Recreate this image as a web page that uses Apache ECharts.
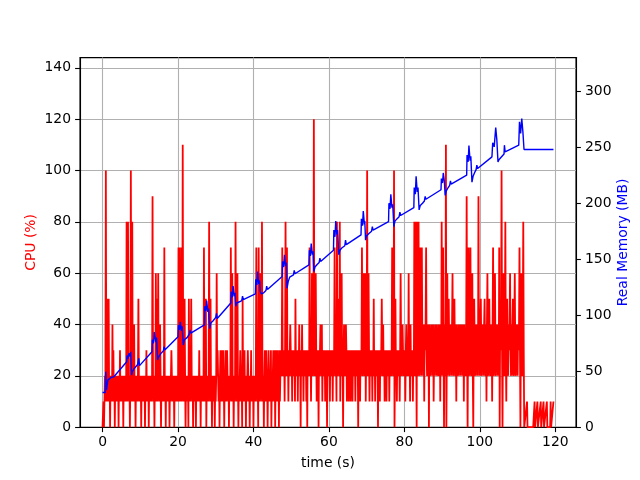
<!DOCTYPE html>
<html>
<head>
<meta charset="utf-8">
<script src="https://cdn.jsdelivr.net/npm/echarts@6.0.0/dist/echarts.min.js"></script>
<style>
html,body{margin:0;padding:0;background:#fff;}
#chart{width:640px;height:480px;}
</style>
</head>
<body>
<div id="chart"></div>
<script>
// CPU (%) samples, one every cpuStep seconds starting at t = 0 (rows of 5 s)
const cpuStep = 0.125;
const cpuValues = [
  0,0,10,0,10,20,10,100,10,20, 10,50,10,50,10,20,0,20,10,20, 10,40,10,30,10,20,0,20,10,20, 10,20,10,20,0,20,10,30,10,20,
  10,20,10,20,0,20,10,20,10,20, 10,80,10,20,80,20,10,20,0,20, 100,20,10,80,10,20,10,40,10,20, 0,20,10,20,10,20,50,20,10,20,
  10,20,0,20,10,20,10,20,10,20, 0,20,10,30,10,20,10,20,0,20, 10,20,10,20,10,20,90,20,10,20, 0,20,10,60,10,50,10,20,60,20,
  10,20,40,20,0,20,10,20,10,20, 10,70,10,20,0,20,10,20,10,20, 10,20,0,20,10,20,30,20,10,20, 10,20,0,20,10,20,10,20,10,20,
  10,70,10,70,10,20,10,70,10,20, 110,20,10,20,50,20,0,20,10,20, 10,20,0,50,10,20,10,20,50,20, 10,20,0,20,10,20,10,20,0,20,
  10,20,10,20,10,30,10,20,0,20, 10,20,10,20,10,70,10,20,10,50, 0,20,10,20,10,20,80,20,10,50, 10,20,0,20,10,20,10,20,0,20,
  10,20,60,20,30,20,10,20,0,20, 30,20,10,30,10,20,30,20,0,20, 10,30,10,20,30,20,10,20,0,20, 10,20,70,20,10,60,10,20,0,20,
  10,20,80,20,10,20,60,20,0,20, 10,20,30,20,10,20,0,50,10,20, 10,30,10,20,0,20,10,20,30,20, 10,20,0,20,10,30,10,20,10,20,
  0,20,10,20,10,20,70,20,10,20, 0,70,10,20,60,20,10,20,80,20, 10,20,0,20,30,20,10,30,10,20, 0,20,30,20,10,20,10,30,0,20,
  10,20,30,20,10,30,0,20,30,20, 10,30,10,20,0,30,10,20,30,20, 30,70,20,30,20,30,10,30,80,30, 20,70,20,30,10,30,20,30,40,30,
  20,30,10,30,20,30,20,30,10,50, 20,30,20,30,10,30,20,40,20,30, 0,30,20,40,20,30,10,30,20,30, 20,30,10,30,0,30,20,30,20,70,
  20,30,10,30,60,30,20,30,120,30, 20,30,60,30,10,30,20,30,0,30, 20,30,40,30,20,40,10,30,20,30, 20,30,10,30,20,30,0,30,20,30,
  20,30,10,30,20,30,20,30,10,30, 20,30,70,30,20,30,10,80,20,30, 50,30,20,80,10,30,20,60,20,30, 0,30,40,30,20,30,40,30,10,30,
  20,30,10,30,20,30,10,30,20,30, 10,30,20,30,20,30,10,30,20,30, 20,30,0,30,20,30,10,30,20,30, 70,30,20,30,60,30,20,60,10,30,
  20,100,20,30,60,30,10,30,20,30, 20,30,10,30,20,50,20,30,10,30, 20,30,20,30,0,30,20,30,10,30, 20,30,50,30,20,40,20,30,10,30,
  20,30,10,30,20,30,20,30,10,30, 20,30,20,30,70,30,20,30,100,0, 20,50,20,30,10,30,20,30,20,30, 10,30,60,30,20,30,40,30,20,30,
  20,30,10,30,40,30,20,30,20,60, 20,30,10,40,20,30,20,30,10,30, 20,80,20,30,80,30,0,80,20,30, 80,30,20,40,70,40,20,70,30,40,
  20,40,10,40,30,40,70,30,20,40, 30,40,0,40,20,30,20,40,30,40, 20,40,10,30,20,40,30,40,20,40, 20,30,20,40,30,40,10,40,20,80,
  20,40,70,30,0,40,20,30,110,0, 30,60,20,40,50,30,20,40,30,40, 20,40,60,30,20,40,50,30,20,40, 10,40,20,30,20,40,30,40,20,40,
  20,40,30,40,20,40,10,40,20,30, 20,40,90,30,0,40,70,30,20,40, 70,30,20,40,60,20,0,40,50,30, 20,40,30,40,20,40,20,90,30,40,
  20,40,50,30,20,40,30,40,20,40, 50,30,20,40,10,40,60,30,20,40, 50,30,20,40,30,40,10,40,70,30, 20,40,60,30,20,40,30,40,20,40,
  20,70,0,40,30,40,100,30,0,40, 60,30,20,40,80,30,10,40,50,30, 20,40,30,40,60,30,20,40,20,40, 50,30,20,40,60,30,20,40,30,40,
  20,40,30,40,70,30,0,40,60,30, 20,40,80,30,0,0,0,0,0,0, 10,0,0,0,0,0,0,0,0,0, 0,0,0,0,0,0,10,0,0,0,
  0,0,10,0,0,0,0,0,0,10, 0,0,0,0,0,10,0,0,0,0, 0,0,10,0,0,0,0,0,0,0, 10,0,0,0,0,0,10
];

// Real memory (MB): sample times (s) and values
const memTimes = [
  0,0.7,0.85,1.05,1.4,1.8,2.3,2.6,3.0,
  6.4,6.5,6.7,7.0,7.3,7.45,7.7,7.9,8.3,9.3,9.6,9.8,
  13.1,13.2,13.5,13.7,14.1,14.3,14.6,14.9,15.5,16.1,16.3,16.5,
  20.0,20.1,20.4,20.6,20.9,21.1,21.4,21.7,22.4,23.0,23.2,23.4,
  27.0,27.1,27.4,27.6,27.9,28.1,28.4,28.7,29.3,30.0,30.2,30.4,
  34.0,34.1,34.4,34.6,34.9,35.1,35.3,35.6,36.3,36.9,37.1,37.3,
  40.5,40.6,40.9,41.1,41.4,41.6,41.8,42.1,42.7,43.3,43.5,43.7,
  47.6,47.7,48.0,48.2,48.5,48.7,48.9,49.2,49.6,50.6,50.8,51.0,
  54.7,54.8,55.1,55.3,55.6,55.8,56.0,56.3,56.8,57.4,57.6,57.8,
  61.2,61.3,61.6,61.8,62.1,62.3,62.6,62.9,63.4,64.2,64.4,64.6,
  68.5,68.6,68.9,69.1,69.4,69.5,69.7,70.0,70.6,71.3,71.5,71.7,
  75.8,75.9,76.2,76.4,76.7,76.9,77.2,77.5,78.0,78.6,78.8,79.0,
  82.5,82.6,82.9,83.1,83.4,83.6,83.9,84.2,84.8,85.3,85.5,85.7,
  89.7,89.8,90.1,90.3,90.6,90.8,91.1,91.6,92.0,92.2,92.4,
  96.5,96.6,96.9,97.1,97.4,97.6,97.9,98.2,98.7,99.0,99.2,99.4,
  103.2,103.4,103.8,104.2,104.5,104.8,105.1,105.6,106.4,106.5,106.7,
  110.3,110.5,110.8,111.1,111.4,111.7,119.5
];
const memValues = [
  31,31,49.6,33,42,41,44.5,43,45,
  58.5,64,61,66,63,67.4,46.6,49.5,52,56,61.5,55,
  67.4,78,75,85,76,80,60,63,66,68,72,69,
  80.8,91,87,94,86,90,73.4,78,80,83,86.8,84,
  91.3,108,104,113,103,106,88,93,95,98,101.7,97,
  110.9,121,116,126,117,120,108,111,112,113,117,114,
  119,132,127,139,128,131,121,119,120,122,126,123,
  134.5,148,143,154,144,147,124,130,134,136,140,137,
  145,158,153,164,154,157,139,143,145,147,151,148,
  158,176,170,184,172,176,154,158,160,162,167,163,
  171.7,186,180,193,181,184,167,171,173,175,179,176,
  183.6,200,195,208,196,199,179,184,186,188,192,189,
  196,214,208,224,210,214,194,198,200,202,206,203.5,
  212,222,218,227,219,207,211,214,216,220,217,
  225,243,237,251.5,238,242,218.75,224,228,230,234,231,
  241.4,253.9,250.3,267.6,256.3,236.9,239,238.4,244,251.8,245.8,
  251.8,272.6,262.2,275.6,263.7,248,248
];

// Tick labels
const timeTicks = [0,20,40,60,80,100,120];
const cpuTicks = [0,20,40,60,80,100,120,140];
const memTicks = [0,50,100,150,200,250,300];

const cpuData = cpuValues.map((v, i) => [i * cpuStep, v]);
const memData = memTimes.map((t, i) => [t, memValues[i]]);

const FONT = 'DejaVu Sans';
const FS = 13.9;
const axisLineStyle = { color: '#000', width: 1.1 };

const chart = echarts.init(document.getElementById('chart'), null, { renderer: 'canvas' });
chart.setOption({
  animation: false,
  backgroundColor: '#fff',
  grid: {
    left: 80, right: 64, top: 57.6, bottom: 52.8,
    show: true, borderColor: '#000', borderWidth: 1.1,
    containLabel: false, outerBoundsMode: 'none'
  },
  xAxis: {
    type: 'value', min: -5.975, max: 125.475,
    axisLine: { show: true, onZero: false, lineStyle: axisLineStyle },
    axisTick: { show: true, length: 4.9, lineStyle: axisLineStyle, customValues: timeTicks },
    axisLabel: { customValues: timeTicks, color: '#000', fontSize: FS, fontFamily: FONT, margin: 8 },
    splitLine: { show: true, lineStyle: { color: '#b0b0b0', width: 1.1 } },
    name: 'time (s)', nameLocation: 'middle', nameGap: 29, nameMoveOverlap: false,
    nameTextStyle: { color: '#000', fontSize: FS, fontFamily: FONT }
  },
  yAxis: [
    {
      type: 'value', min: 0, max: 144, position: 'left',
      axisLine: { show: true, onZero: false, lineStyle: axisLineStyle },
      axisTick: { show: true, length: 4.9, lineStyle: axisLineStyle, customValues: cpuTicks },
      axisLabel: { customValues: cpuTicks, color: '#000', fontSize: FS, fontFamily: FONT, margin: 9 },
      splitLine: { show: true, lineStyle: { color: '#b0b0b0', width: 1.1 } },
      name: 'CPU (%)', nameLocation: 'middle', nameRotate: 90, nameGap: 42, nameMoveOverlap: false,
      nameTextStyle: { color: '#ff0000', fontSize: FS, fontFamily: FONT }
    },
    {
      type: 'value', min: 0, max: 330, position: 'right',
      axisLine: { show: true, onZero: false, lineStyle: axisLineStyle },
      axisTick: { show: true, length: 4.9, lineStyle: axisLineStyle, customValues: memTicks },
      axisLabel: { customValues: memTicks, color: '#000', fontSize: FS, fontFamily: FONT, margin: 9 },
      splitLine: { show: false },
      name: 'Real Memory (MB)', nameLocation: 'middle', nameRotate: 90, nameGap: 40, nameMoveOverlap: false,
      nameTextStyle: { color: '#0000ff', fontSize: FS, fontFamily: FONT }
    }
  ],
  series: [
    {
      type: 'line', name: 'CPU', xAxisIndex: 0, yAxisIndex: 0,
      data: cpuData, symbol: 'none', showSymbol: false, silent: true,
      lineStyle: { color: '#ff0000', width: 1.8 }, itemStyle: { color: '#ff0000' },
      z: 2
    },
    {
      type: 'line', name: 'Memory', xAxisIndex: 0, yAxisIndex: 1,
      data: memData, symbol: 'none', showSymbol: false, silent: true,
      lineStyle: { color: '#0000ff', width: 1.4 }, itemStyle: { color: '#0000ff' },
      z: 3
    }
  ]
});
</script>
</body>
</html>
